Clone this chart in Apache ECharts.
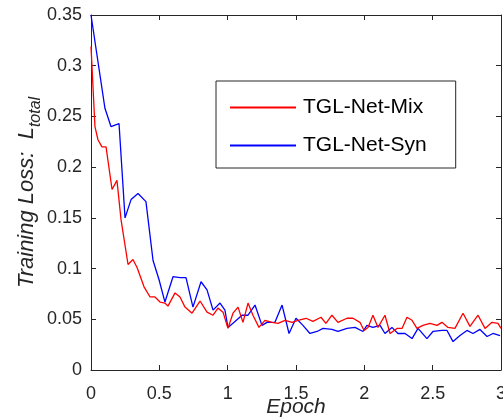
<!DOCTYPE html>
<html><head><meta charset="utf-8">
<script src="https://cdn.jsdelivr.net/npm/echarts@6/dist/echarts.min.js"></script>
<style>html,body{margin:0;padding:0;background:#fff}#c{width:503px;height:419px}</style>
</head><body><div id="c"></div>
<script>
var xTicks = [0, 0.5, 1, 1.5, 2, 2.5, 3];
var yTicks = [0, 0.05, 0.1, 0.15, 0.2, 0.25, 0.3, 0.35];
var seriesNames = ['TGL-Net-Mix', 'TGL-Net-Syn'];

var epochMix = [0,0.029,0.051,0.080,0.110,0.154,0.190,0.220,0.271,0.307,0.337,0.388,0.432,0.468,0.505,0.541,0.563,0.615,0.651,0.688,0.739,0.798,0.849,0.893,0.929,0.966,1.002,1.039,1.076,1.112,1.149,1.185,1.229,1.273,1.324,1.368,1.420,1.471,1.515,1.573,1.624,1.683,1.719,1.763,1.807,1.873,1.917,1.968,1.998,2.027,2.063,2.100,2.151,2.188,2.239,2.276,2.312,2.349,2.385,2.429,2.480,2.532,2.568,2.612,2.663,2.722,2.773,2.832,2.883,2.934,2.978,3.0];
var lossMix = [0.319,0.240,0.227,0.220,0.220,0.178,0.187,0.148,0.104,0.109,0.101,0.082,0.072,0.072,0.067,0.066,0.063,0.076,0.072,0.062,0.056,0.068,0.057,0.054,0.061,0.057,0.041,0.056,0.062,0.047,0.066,0.054,0.042,0.049,0.047,0.046,0.049,0.047,0.049,0.051,0.048,0.052,0.046,0.054,0.047,0.051,0.051,0.047,0.039,0.042,0.054,0.042,0.054,0.036,0.041,0.041,0.052,0.049,0.041,0.044,0.046,0.044,0.047,0.042,0.041,0.056,0.043,0.054,0.041,0.047,0.046,0.041];

var epochSyn = [0,0.102,0.146,0.205,0.249,0.293,0.344,0.402,0.454,0.498,0.541,0.600,0.651,0.695,0.746,0.805,0.849,0.893,0.944,0.980,1.002,1.039,1.105,1.149,1.200,1.251,1.288,1.346,1.398,1.449,1.500,1.551,1.602,1.654,1.698,1.763,1.807,1.873,1.932,1.990,2.019,2.063,2.115,2.151,2.202,2.246,2.298,2.349,2.393,2.458,2.502,2.568,2.605,2.649,2.700,2.751,2.795,2.846,2.898,2.941,2.993];
var lossSyn = [0.350,0.258,0.240,0.243,0.150,0.168,0.174,0.166,0.108,0.089,0.067,0.092,0.091,0.091,0.062,0.087,0.079,0.059,0.066,0.059,0.042,0.046,0.054,0.054,0.064,0.044,0.047,0.047,0.064,0.036,0.051,0.044,0.036,0.038,0.041,0.040,0.038,0.041,0.042,0.038,0.044,0.042,0.044,0.036,0.042,0.036,0.036,0.031,0.041,0.031,0.038,0.039,0.039,0.028,0.034,0.039,0.036,0.040,0.033,0.036,0.034];

function pairs(xs, ys){ return xs.map(function(x,i){ return [x, ys[i]]; }); }

var axisCol = '#262626';
var labelFont = 'Liberation Sans, Arial, Helvetica, sans-serif';
var chart = echarts.init(document.getElementById('c'), null, {renderer:'canvas'});
var baseX = {type:'value', min:xTicks[0], max:xTicks[xTicks.length-1], interval:0.5,
  axisLine:{show:true, onZero:false, lineStyle:{color:axisCol, width:1}},
  axisTick:{show:true, inside:true, length:5, lineStyle:{color:axisCol}},
  splitLine:{show:false}};
var baseY = {type:'value', min:yTicks[0], max:yTicks[yTicks.length-1], interval:0.05,
  axisLine:{show:true, onZero:false, lineStyle:{color:axisCol, width:1}},
  axisTick:{show:true, inside:true, length:5, lineStyle:{color:axisCol}},
  splitLine:{show:false}};
chart.setOption({
  animation:false,
  backgroundColor:'#fff',
  grid:{left:91, right:2, top:15, bottom:49, containLabel:false, outerBoundsMode:'none'},
  xAxis:[
    Object.assign({}, baseX, {position:'bottom',
      axisLabel:{color:axisCol, fontSize:18, fontFamily:labelFont, margin:15},
      name:'Epoch', nameLocation:'middle', nameGap:27, nameMoveOverlap:false,
      nameTextStyle:{color:axisCol, fontSize:21, fontStyle:'italic', fontFamily:labelFont}}),
    Object.assign({}, baseX, {position:'top', axisLabel:{show:false}})
  ],
  yAxis:[
    Object.assign({}, baseY, {position:'left',
      axisLabel:{color:axisCol, fontSize:18, fontFamily:labelFont, margin:9},
      name:'{a|Training Loss:  L}{b|total}', nameLocation:'middle', nameGap:47, nameRotate:90, nameMoveOverlap:false,
      nameTextStyle:{color:axisCol, fontFamily:labelFont, fontStyle:'italic',
        rich:{a:{fontSize:22, fontStyle:'italic', color:axisCol, fontFamily:labelFont, verticalAlign:'top', lineHeight:28},
              b:{fontSize:16, fontStyle:'italic', color:axisCol, fontFamily:labelFont, verticalAlign:'bottom', lineHeight:18}}}}),
    Object.assign({}, baseY, {position:'right', axisLabel:{show:false}})
  ],
  legend:{
    orient:'vertical', left:216, top:81,
    data:seriesNames,
    backgroundColor:'#fff', borderColor:axisCol, borderWidth:1,
    padding:[16,29,12,14], itemGap:17, itemWidth:66, itemHeight:2, icon:'rect',
    textStyle:{color:'#000', fontSize:21, fontFamily:labelFont, padding:[0,0,0,2]}
  },
  series:[
    {name:seriesNames[0], type:'line', data:pairs(epochMix, lossMix), symbol:'none',
     lineStyle:{color:'#ff0000', width:1.3}, itemStyle:{color:'#ff0000'}, z:3},
    {name:seriesNames[1], type:'line', data:pairs(epochSyn, lossSyn), symbol:'none',
     lineStyle:{color:'#0000ff', width:1.3}, itemStyle:{color:'#0000ff'}, z:2}
  ]
});
</script></body></html>
